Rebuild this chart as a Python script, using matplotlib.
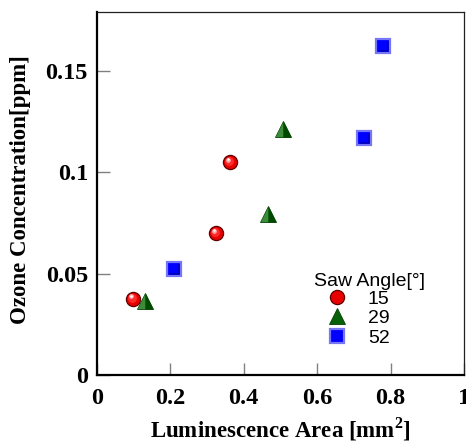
import matplotlib
matplotlib.use("Agg")
import matplotlib.pyplot as plt
from matplotlib.path import Path
from matplotlib.transforms import offset_copy

plt.rcParams["mathtext.fontset"] = "custom"
plt.rcParams["mathtext.bf"] = "Liberation Serif:bold"
plt.rcParams["mathtext.rm"] = "Liberation Serif"

# ---- data ----
angle_labels = ["15", "29", "52"]
x_15 = [0.097, 0.323, 0.363]
y_15 = [0.0377, 0.0699, 0.1048]
x_29 = [0.130, 0.466, 0.508]
y_29 = [0.0367, 0.0795, 0.1214]
x_52 = [0.209, 0.728, 0.780]
y_52 = [0.0523, 0.1170, 0.1620]
x_ticks = [0, 0.2, 0.4, 0.6, 0.8, 1]
x_tick_labels = ["0", "0.2", "0.4", "0.6", "0.8", "1"]
y_ticks = [0, 0.05, 0.1, 0.15]
y_tick_labels = ["0", "0.05", "0.1", "0.15"]

W, H = 466, 444
fig = plt.figure(figsize=(W / 100, H / 100), dpi=100)
ax = fig.add_axes([97 / W, 69 / H, 367 / W, 363 / H])

serif = "Liberation Serif"
sans = "Liberation Sans"


def off(dx, dy):
    return offset_copy(ax.transData, fig=fig, x=dx, y=dy, units="dots")


left_tri = Path([(0, 1), (-1, -1), (0, -1), (0, 1)], closed=True)
right_tri = Path([(0, 1), (0, -1), (1, -1), (0, 1)], closed=True)
sq_shadow = Path(
    [(1, 1), (0.48, 0.7), (0.7, 0.7), (0.7, -0.7), (-0.7, -0.7), (-0.7, -0.48),
     (0.48, -0.48), (0.48, 0.7)],
    [Path.MOVETO, Path.MOVETO, Path.LINETO, Path.LINETO, Path.LINETO,
     Path.LINETO, Path.LINETO, Path.CLOSEPOLY])

# 15 deg: shaded red spheres
h15, = ax.plot(x_15, y_15, ls="none", marker="o", ms=10.2, mfc="#e80000",
               mec="#600000", mew=0.9, zorder=3)
ax.plot(x_15, y_15, ls="none", marker="o", ms=6.4, mfc="#ff2a2a", mec="none",
        transform=off(-1, 1), zorder=4)
ax.plot(x_15, y_15, ls="none", marker="o", ms=3.4, mfc="#ffa8a8", mec="none",
        transform=off(-2, 2.5), zorder=5)
ax.plot(x_15, y_15, ls="none", marker="o", ms=1.7, mfc="white", mec="none",
        transform=off(-2, 3), zorder=6)

# 29 deg: shaded green triangles
h29, = ax.plot(x_29, y_29, ls="none", marker="^", ms=11, mfc="#075f07",
               mec="#034003", mew=0.6, zorder=3)
ax.plot(x_29, y_29, ls="none", marker=left_tri, ms=11, mfc="#3c8c3c",
        mec="none", zorder=4)
ax.plot(x_29, y_29, ls="none", marker=right_tri, ms=11, mfc="#004a00",
        mec="none", zorder=4)

# 52 deg: shaded blue squares
h52, = ax.plot(x_52, y_52, ls="none", marker="s", ms=9.4, mfc="#0000ff",
               mec="#7676f6", mew=1.6, zorder=3)
ax.plot(x_52, y_52, ls="none", marker=sq_shadow, ms=11.0, mfc="#00008a",
        mec="none", zorder=4)

ax.set_xlim(0, 1)
ax.set_ylim(0, 0.179)
ax.set_xticks(x_ticks)
ax.set_xticklabels(x_tick_labels)
ax.set_yticks(y_ticks)
ax.set_yticklabels(y_tick_labels)
ax.tick_params(axis="both", direction="in", length=9, width=1, color="#808080",
               top=False, right=False)
ax.tick_params(axis="x", pad=9.0)
ax.tick_params(axis="y", pad=6.5)
for lab in ax.get_xticklabels() + ax.get_yticklabels():
    lab.set_fontfamily(serif)
    lab.set_fontweight("bold")
    lab.set_fontsize(17.5)

for s in ["left", "bottom"]:
    ax.spines[s].set_linewidth(1.6)
    ax.spines[s].set_color("black")
for s in ["top", "right"]:
    ax.spines[s].set_linewidth(0.9)
    ax.spines[s].set_color("#202020")

ax.set_xlabel("Luminescence Area [mm$^\\mathbf{2}$]", fontfamily=serif,
              fontweight="bold", fontsize=16.5, labelpad=5)
ax.set_ylabel("Ozone Concentration[ppm]", fontfamily=serif, fontweight="bold",
              fontsize=16.5)
ax.yaxis.set_label_coords(-0.18, 0.51)

leg = ax.legend([h15, h29, h52], angle_labels, loc="upper left",
                bbox_to_anchor=(327 / W, 1 - 290 / H),
                bbox_transform=fig.transFigure, frameon=False,
                prop={"family": sans, "size": 14}, handlelength=1.0,
                handletextpad=1.1, labelspacing=0.1, borderpad=0,
                borderaxespad=0)
fig.text(369 / W, 1 - 281 / H, "Saw Angle[°]", ha="center", va="center",
         fontfamily=sans, fontsize=14)

fig.savefig("out.png", dpi=100)
